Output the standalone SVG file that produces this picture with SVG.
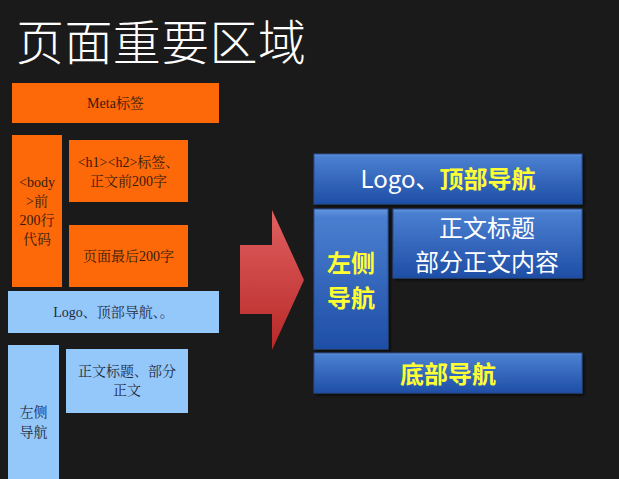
<svg xmlns="http://www.w3.org/2000/svg" width="619" height="479" viewBox="0 0 619 479">
<defs>
<linearGradient id="blueGrad" x1="0" y1="0" x2="0" y2="1">
<stop offset="0" stop-color="#6396e0"/>
<stop offset="0.06" stop-color="#4a7fd0"/>
<stop offset="1" stop-color="#1e4ea6"/>
</linearGradient>
<linearGradient id="redGrad" x1="0" y1="0" x2="0" y2="1">
<stop offset="0" stop-color="#e06060"/>
<stop offset="1" stop-color="#b82828"/>
</linearGradient>
<filter id="shadow" x="-10%" y="-10%" width="125%" height="130%">
<feDropShadow dx="2" dy="2" stdDeviation="1.5" flood-color="#000" flood-opacity="0.6"/>
</filter>
</defs>
<style>
.orange{fill:#fd6908;}
.light{fill:#94c8fb;}
.blue{fill:url(#blueGrad);stroke:#2a4f90;stroke-width:1;filter:url(#shadow);}
.ot{font-family:"Liberation Serif","Noto Serif CJK SC","Noto Sans CJK SC",serif;font-size:14px;fill:#3a1a08;text-anchor:middle;}
.lt{font-family:"Liberation Serif","Noto Serif CJK SC","Noto Sans CJK SC",serif;font-size:14px;fill:#1e2a40;text-anchor:middle;}
.wt{font-family:"Noto Sans CJK SC","Noto Sans",sans-serif;font-size:24px;fill:#ffffff;text-anchor:middle;}
.yt{font-family:"Noto Sans CJK SC","Noto Sans",sans-serif;font-size:24px;fill:#ffff33;font-weight:bold;text-anchor:middle;}
.title{font-family:"Noto Sans CJK SC","Noto Sans",sans-serif;font-size:48px;fill:#ffffff;font-weight:300;}
</style>
<rect x="0" y="0" width="619" height="479" fill="#1b1a1a"/>
<text class="title" x="16" y="60" textLength="290" lengthAdjust="spacing">页面重要区域</text>

<g id="meta"><rect class="orange" x="12" y="83" width="207" height="40"/><text class="ot" x="115.5" y="108">Meta标签</text></g>
<g id="body200"><rect class="orange" x="12" y="135" width="50" height="152"/>
<text class="ot" x="37" y="187">&lt;body</text><text class="ot" x="37" y="206">&gt;前</text><text class="ot" x="37" y="225">200行</text><text class="ot" x="37" y="244">代码</text></g>
<g id="h1h2"><rect class="orange" x="69" y="140" width="119" height="62"/>
<text class="ot" x="128.5" y="167">&lt;h1&gt;&lt;h2&gt;标签、</text><text class="ot" x="128.5" y="186">正文前200字</text></g>
<g id="last200"><rect class="orange" x="69" y="225" width="119" height="62"/>
<text class="ot" x="128.5" y="261">页面最后200字</text></g>

<g id="logoLight"><rect class="light" x="8" y="291" width="211" height="42"/>
<text class="lt" x="113.5" y="317">Logo、顶部导航、。</text></g>
<g id="leftLight"><rect class="light" x="8" y="345" width="51" height="140"/>
<text class="lt" x="33.5" y="417">左侧</text><text class="lt" x="33.5" y="437">导航</text></g>
<g id="contentLight"><rect class="light" x="66" y="349" width="122" height="64"/>
<text class="lt" x="127" y="376">正文标题、部分</text><text class="lt" x="127" y="395">正文</text></g>

<g id="connectors">
<polygon points="240,245 272,245 272,210 304,280 272,350 272,314 240,314" fill="url(#redGrad)"/>
</g>

<g id="topNav"><rect class="blue" x="314" y="154" width="268" height="50"/>
<text class="wt" x="448" y="188"><tspan>Logo、</tspan><tspan fill="#ffff33" font-weight="bold">顶部导航</tspan></text></g>
<g id="leftNav"><rect class="blue" x="314" y="209" width="74" height="140"/>
<text class="yt" x="351" y="272" font-size="22">左侧</text><text class="yt" x="351" y="307" font-size="22">导航</text></g>
<g id="content"><rect class="blue" x="393" y="209" width="189" height="69"/>
<text class="wt" x="487" y="237">正文标题</text><text class="wt" x="487" y="271">部分正文内容</text></g>
<g id="bottomNav"><rect class="blue" x="314" y="353" width="268" height="40"/>
<text class="yt" x="448" y="383">底部导航</text></g>
</svg>
